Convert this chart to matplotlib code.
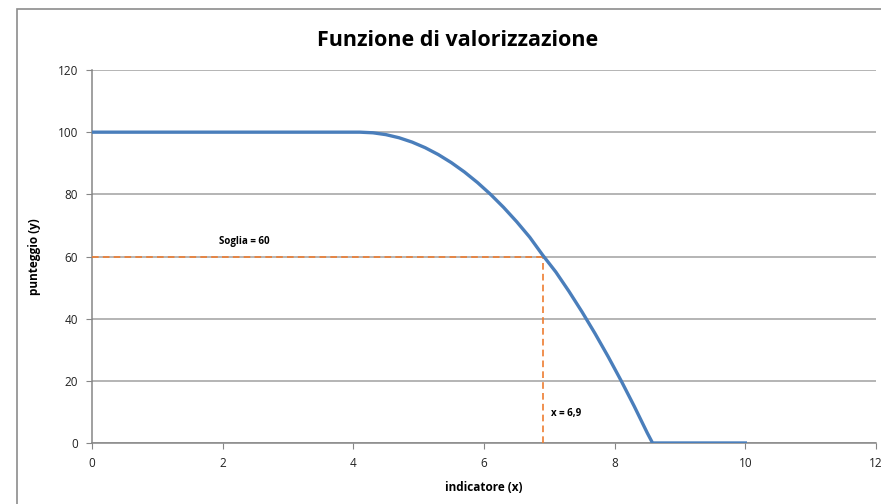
import matplotlib.pyplot as plt
from matplotlib.patches import Rectangle

# punteggio in funzione dell'indicatore
indicatore = [0, 4.1, 4.3, 4.5, 4.7, 4.9, 5.1, 5.3, 5.5, 5.7, 5.9, 6.1, 6.3,
              6.5, 6.7, 6.9, 7.1, 7.3, 7.5, 7.7, 7.9, 8.1, 8.3, 8.5, 8.58, 10]
punteggio = [100, 100, 99.8, 99.2, 98.2, 96.8, 95.0, 92.8, 90.2, 87.2, 83.8, 80.0, 75.8,
             71.2, 66.2, 60.4, 55.0, 48.8, 42.2, 35.2, 27.8, 20.0, 11.8, 3.2, 0, 0]

soglia_y = 60
soglia_x = 6.9
x_ticks = [0, 2, 4, 6, 8, 10, 12]
y_ticks = [0, 20, 40, 60, 80, 100, 120]

plt.rcParams['font.family'] = ['Open Sans', 'DejaVu Sans']

W, H = 881, 504
fig = plt.figure(figsize=(W / 100, H / 100), dpi=100)
ax = fig.add_axes([92 / W, (H - 443) / H, (876 - 92) / W, (443 - 70) / H])

# cornice del grafico
fig.patches.append(Rectangle((17 / W, -0.1), 1.2, (H - 9) / H + 0.1,
                             transform=fig.transFigure, fill=False,
                             edgecolor='#8c8c8c', linewidth=1.2))

grey = '#a0a0a0'
ax.set_xlim(0, 12)
ax.set_ylim(0, 120)
ax.set_xticks(x_ticks)
ax.set_yticks(y_ticks)
ax.yaxis.grid(True, color=grey, linewidth=1.1)
ax.set_axisbelow(True)
for s in ['top', 'right']:
    ax.spines[s].set_visible(False)
for s in ['left', 'bottom']:
    ax.spines[s].set_color('#868686')
    ax.spines[s].set_linewidth(1.1)
ax.tick_params(axis='both', direction='out', length=4, color='#868686',
               labelsize=8.5, labelcolor='#222222')
ax.tick_params(axis='x', pad=6)
ax.tick_params(axis='y', pad=6)

# linee di soglia
ax.plot([0, soglia_x], [soglia_y, soglia_y], color='#ed7d31', linestyle=(0, (4, 2.5)),
        linewidth=1.2, clip_on=False, zorder=3)
ax.plot([soglia_x, soglia_x], [0, soglia_y], color='#ed7d31', linestyle=(0, (4, 2.5)),
        linewidth=1.2, clip_on=False, zorder=3)

ax.plot(indicatore, punteggio, color='#4a7ebb', linewidth=2.4,
        solid_joinstyle='round', zorder=4)

ax.text(2.33, soglia_y + 3, 'Soglia = 60', fontsize=7, fontweight='bold',
        ha='center', va='bottom')
ax.text(soglia_x + 0.12, 9.5, 'x = 6,9', fontsize=7, fontweight='bold',
        ha='left', va='center')

fig.text(458 / W, (H - 40) / H, 'Funzione di valorizzazione', fontsize=15.5,
         fontweight='bold', ha='center', va='center')
ax.set_xlabel('indicatore (x)', fontsize=8.5, fontweight='bold', labelpad=8)
ax.set_ylabel('punteggio (y)', fontsize=8.5, fontweight='bold', labelpad=12)

fig.savefig('out.png', dpi=100)
